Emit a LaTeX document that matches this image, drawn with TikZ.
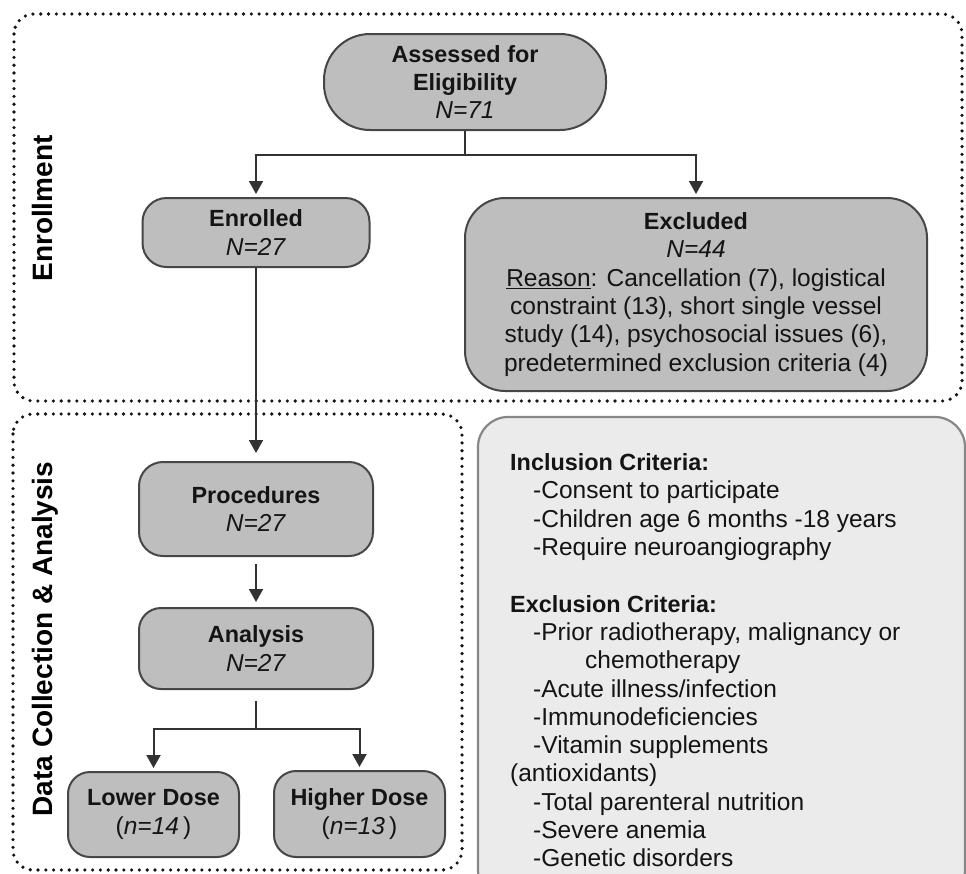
\documentclass[tikz,border=0pt]{standalone}
\usepackage{fontspec}
\setmainfont{Liberation Sans}
\usetikzlibrary{arrows.meta}
\definecolor{boxgray}{RGB}{190,190,190}
\definecolor{edgegray}{RGB}{70,70,70}
\definecolor{linkgray}{RGB}{50,50,50}
\definecolor{critfill}{RGB}{235,235,235}
\definecolor{critedge}{RGB}{135,135,135}
\definecolor{inkdark}{RGB}{20,20,20}

\newcommand{\bhead}[1]{{\fontsize{23.4}{28.3}\selectfont\bfseries #1}}

\begin{document}
\begin{tikzpicture}[x=1pt,y=-1pt]
    \useasboundingbox (0,0) rectangle (966,873);
    % Define styles
    \tikzstyle{stage} = [rectangle, draw=edgegray, line width=2pt, fill=boxgray, text=inkdark, align=center, inner sep=0pt, font=\fontsize{24.5}{28.3}\selectfont]
    \tikzstyle{phase} = [draw=inkdark, line width=3.6pt, line cap=round, dash pattern=on 0pt off 7.8pt, rounded corners=20pt]
    \tikzstyle{phaselabel} = [rotate=90, anchor=base, inner sep=0pt, text=black, font=\fontsize{28}{30}\selectfont\bfseries]
    \tikzstyle{link} = [line width=2pt, draw=linkgray]
    \tikzstyle{arrow} = [line width=2pt, draw=linkgray, -{Triangle[width=14pt,length=13pt]}, shorten >=3pt]

    % Phases
    \draw [phase] (14,14) rectangle (962,401);
    \draw [phase] (13,414) rectangle (462,870);
    \node (enrolllabel) [phaselabel] at (52,208.5) {Enrollment};
    \node (datalabel) [phaselabel] at (52,639) {Data Collection \& Analysis};

    % Enrollment
    \node (assessed) [stage, rounded corners=46pt, minimum width=282pt, minimum height=96pt] at (465,82) {\bhead{Assessed for}\\ \bhead{Eligibility}\\ \textit{N=71}};
    \node (enrolled) [stage, rounded corners=24pt, minimum width=227pt, minimum height=69pt] at (256,232.5) {\bhead{Enrolled}\\ \textit{N=27}};
    \node (excluded) [stage, rounded corners=40pt, minimum width=462pt, minimum height=193pt] at (696,294.5) {\bhead{Excluded}\\ \textit{N=44}\\ \underline{Reason}: Cancellation (7), logistical\\ constraint (13), short single vessel\\ study (14), psychosocial issues (6),\\ predetermined exclusion criteria (4)};

    % Data collection
    \node (procedures) [stage, rounded corners=24pt, minimum width=234pt, minimum height=94pt] at (256,509) {\bhead{Procedures}\\ \textit{N=27}};
    \node (analysis) [stage, rounded corners=22pt, minimum width=234pt, minimum height=81pt] at (256,648.5) {\bhead{Analysis}\\ \textit{N=27}};
    \node (lower) [stage, rounded corners=22pt, minimum width=171pt, minimum height=85pt] at (153.5,814.5) {\bhead{Lower Dose}\\ (\textit{n=14}\,)};
    \node (higher) [stage, rounded corners=22pt, minimum width=171pt, minimum height=86pt] at (359.5,814) {\bhead{Higher Dose}\\ (\textit{n=13}\,)};

    % Criteria
    \node (critbox) [rectangle, draw=critedge, line width=2.2pt, fill=critfill, rounded corners=30pt, minimum width=487pt, minimum height=483pt] at (721.5,658.5) {};
    \node (crittext) [anchor=north west, align=left, inner sep=0pt, text=inkdark, font=\fontsize{24.5}{28.3}\selectfont] at (510,453.5) {\bhead{Inclusion Criteria:}\\
        \hspace*{23pt}-Consent to participate\\
        \hspace*{23pt}-Children age 6 months -18 years\\
        \hspace*{23pt}-Require neuroangiography\\[28.3pt]
        \bhead{Exclusion Criteria:}\\
        \hspace*{23pt}-Prior radiotherapy, malignancy or\\
        \hspace*{75pt}chemotherapy\\
        \hspace*{23pt}-Acute illness/infection\\
        \hspace*{23pt}-Immunodeficiencies\\
        \hspace*{23pt}-Vitamin supplements\\
        (antioxidants)\\
        \hspace*{23pt}-Total parenteral nutrition\\
        \hspace*{23pt}-Severe anemia\\
        \hspace*{23pt}-Genetic disorders};

    % Splits
    \coordinate (split1) at (465,155);
    \coordinate (split2) at (256,729);

    % Dependencies
    \draw [link] (assessed) -- (split1);
    \draw [arrow] (split1) -| (enrolled);
    \draw [arrow] (split1) -| (excluded);
    \draw [arrow, shorten >=8pt] (enrolled) -- (procedures);
    \draw [arrow, shorten <=7pt, shorten >=5pt] (procedures) -- (analysis);
    \draw [link, shorten <=11pt] (analysis) -- (split2);
    \draw [arrow] (split2) -| (lower);
    \draw [arrow] (split2) -| (higher);
\end{tikzpicture}
\end{document}
